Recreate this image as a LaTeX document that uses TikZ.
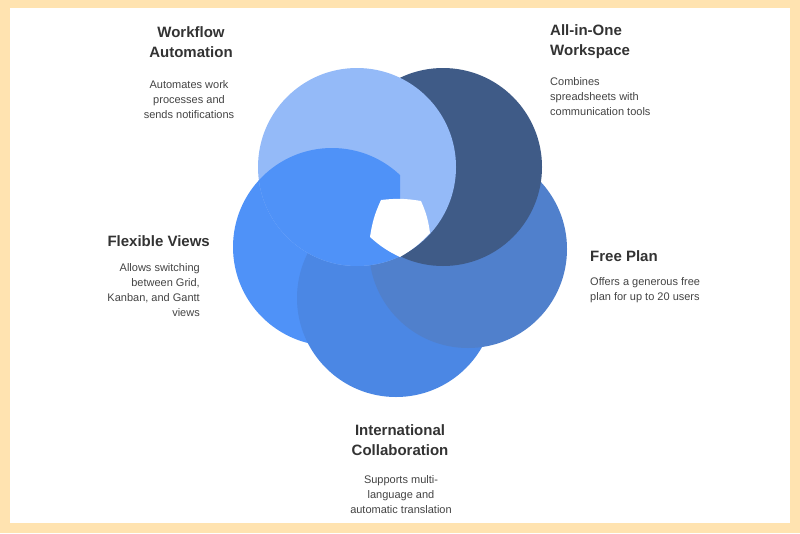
\documentclass[tikz,border=0pt]{standalone}
\usepackage{fontspec}
\setmainfont{Liberation Sans}
\definecolor{frame}{HTML}{FFE3B0}
\definecolor{cwork}{HTML}{94BAF8}
\definecolor{cdark}{HTML}{3F5B87}
\definecolor{cfree}{HTML}{5080CC}
\definecolor{cintl}{HTML}{4B87E4}
\definecolor{cflex}{HTML}{4F92F8}
\definecolor{ttl}{HTML}{333333}
\definecolor{dsc}{HTML}{444444}
\tikzset{
  ring/.style={circle, minimum size=198pt, inner sep=0pt},
  title/.style={font=\fontsize{15}{20}\selectfont\bfseries, text=ttl, inner sep=0pt},
  desc/.style={font=\fontsize{11}{15}\selectfont, text=dsc, inner sep=0pt}
}
\begin{document}
\begin{tikzpicture}[x=1pt,y=-1pt]
        \fill[frame] (0,0) rectangle (800,533);
        \fill[white] (10,8) rectangle (790,523);
        % circles, back to front
        \node[ring, fill=cflex] (flex) at (332,247) {};
        \node[ring, fill=cintl] (intl) at (396,298) {};
        \node[ring, fill=cfree] (free) at (468,249) {};
        \node[ring, fill=cdark] (dark) at (443,167) {};
        \node[ring, fill=cwork] (work) at (357,167) {};
        % flexible views again over the light circle
        \begin{scope}
          \clip (work.center) circle (99pt);
          \clip (200,100) rectangle (400,300);
          \fill[cflex] (flex.center) circle (99pt);
        \end{scope}
        % hole in the middle
        \fill[white] (370,237) to[bend left=8] (381,200) to[bend left=8] (421,201)
          to[bend left=8] (430,233) to[bend left=8] (400,257) to[bend left=8] cycle;
        % labels
        \node[title, align=center] (tWork) at (191,42) {Workflow\\Automation};
        \node[desc, align=center] (dWork) at (189,100) {Automates work\\processes and\\sends notifications};
        \node[title, align=left, anchor=west] (tDark) at (550,42) {All-in-One\\Workspace};
        \node[desc, align=left, anchor=west] (dDark) at (550,97) {Combines\\spreadsheets with\\communication tools};
        \node[title, anchor=west] (tFree) at (590,256) {Free Plan};
        \node[desc, align=left, anchor=west] (dFree) at (590,290) {Offers a generous free\\plan for up to 20 users};
        \node[title, anchor=east] (tFlex) at (210,241) {Flexible Views};
        \node[desc, align=right, anchor=east] (dFlex) at (200,290) {Allows switching\\between Grid,\\Kanban, and Gantt\\views};
        \node[title, align=center] (tIntl) at (400,440) {International\\Collaboration};
        \node[desc, align=center] (dIntl) at (401,495) {Supports multi-\\language and\\automatic translation};
\end{tikzpicture}
\end{document}
